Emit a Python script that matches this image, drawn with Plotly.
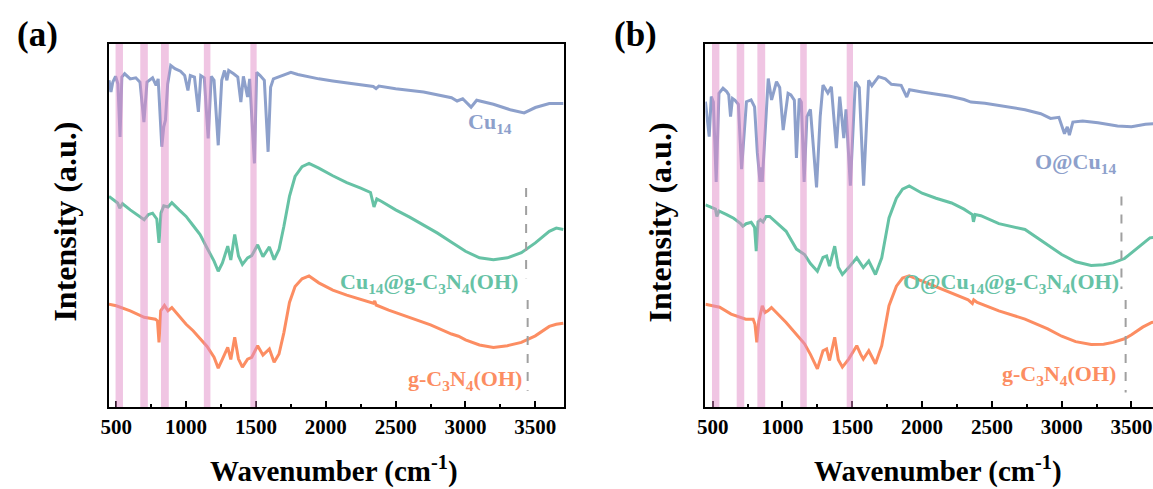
import plotly.graph_objects as go

# ---------------- data (wavenumber in cm^-1, intensity in arbitrary units) ----------------
# Panel (a)
a_cu14_x = [448, 462, 475, 495, 512, 527, 540, 560, 600, 640, 670, 698, 720, 760, 785, 800, 826, 840, 852, 868,
            890, 920, 960, 990, 1013, 1030, 1060, 1088, 1105, 1130, 1158, 1180, 1200, 1230, 1255, 1275, 1292, 1305,
            1340, 1370, 1392, 1410, 1440, 1455, 1489, 1505, 1530, 1560, 1587, 1605, 1625, 1660, 1700, 1750, 1800,
            1880, 1950, 2050, 2200, 2340, 2360, 2380, 2500, 2700, 2900, 2940, 2980, 3040, 3080, 3200, 3320, 3420,
            3500, 3600, 3700]
a_cu14_y = [90.0, 86.8, 89.5, 91.1, 89.0, 74.4, 90.9, 91.8, 90.4, 90.7, 89.5, 78.5, 89.5, 90.7, 88.6, 90.4, 71.7,
            77.2, 79.0, 89.0, 94.1, 93.2, 92.5, 91.3, 87.2, 91.3, 90.9, 81.3, 91.3, 90.7, 74.0, 91.1, 90.0, 72.1,
            90.0, 92.7, 90.0, 92.7, 91.8, 90.9, 84.0, 91.1, 85.4, 90.4, 67.1, 92.2, 91.3, 90.0, 70.3, 88.1, 90.4,
            90.9, 91.3, 92.2, 91.6, 90.9, 90.4, 89.8, 89.0, 88.3, 87.7, 88.4, 87.7, 86.8, 85.2, 84.3, 84.9, 82.6,
            84.5, 83.4, 81.9, 81.0, 82.5, 83.6, 83.6]

a_hyb_x = [448, 480, 510, 525, 545, 600, 650, 700, 730, 760, 790, 806, 820, 840, 870, 898, 950, 1000, 1050, 1100,
           1150, 1200, 1230, 1260, 1298, 1320, 1348, 1375, 1403, 1440, 1470, 1512, 1550, 1596, 1630, 1665, 1700,
           1740, 1780, 1830, 1880, 1950, 2050, 2150, 2250, 2320, 2345, 2365, 2400, 2500, 2600, 2700, 2800, 2900,
           3000, 3100, 3200, 3300, 3400, 3500, 3600, 3650, 3700]
a_hyb_y = [58.0, 57.1, 56.2, 54.8, 56.0, 54.3, 53.0, 51.6, 53.0, 53.4, 51.8, 45.2, 53.4, 55.4, 55.1, 56.3, 54.3,
           52.5, 50.0, 47.5, 43.8, 40.2, 37.4, 39.7, 44.3, 40.5, 47.5, 41.6, 39.3, 41.1, 41.7, 44.7, 41.4, 44.1,
           40.6, 43.4, 49.8, 58.0, 63.5, 66.2, 67.1, 65.8, 63.7, 61.8, 60.3, 59.1, 55.1, 57.3, 56.6, 54.3, 52.3,
           50.1, 47.9, 45.4, 42.9, 41.1, 40.6, 41.1, 42.5, 45.2, 48.4, 49.3, 48.9]

a_cn_x = [448, 500, 600, 700, 780, 795, 806, 818, 845, 870, 898, 950, 1000, 1050, 1100, 1150, 1200, 1230, 1260,
          1298, 1320, 1348, 1375, 1403, 1440, 1470, 1512, 1550, 1596, 1630, 1665, 1700, 1740, 1780, 1830, 1880,
          1950, 2050, 2150, 2250, 2340, 2350, 2360, 2450, 2600, 2750, 2900, 2950, 3000, 3100, 3200, 3300, 3400,
          3500, 3600, 3650, 3700]
a_cn_y = [28.3, 27.9, 26.5, 24.7, 24.2, 23.7, 17.8, 26.5, 28.0, 26.5, 27.4, 25.1, 22.8, 21.0, 18.7, 16.7, 13.7,
          10.7, 13.2, 16.4, 13.1, 19.2, 13.2, 11.0, 13.2, 13.7, 16.9, 14.3, 16.0, 12.3, 14.6, 20.5, 28.8, 33.2,
          35.3, 36.1, 34.2, 32.2, 30.8, 29.7, 28.6, 29.2, 28.1, 26.7, 24.7, 22.6, 20.1, 19.5, 18.5, 17.1, 16.4,
          16.9, 17.8, 19.6, 22.2, 22.8, 23.1]

# Panel (b)
b_ocu_x = [448, 475, 490, 505, 525, 545, 574, 600, 615, 628, 642, 660, 684, 707, 742, 775, 800, 820, 839, 847,
           855, 873, 898, 922, 957, 980, 1005, 1040, 1060, 1085, 1100, 1120, 1135, 1155, 1175, 1200, 1215, 1244,
           1270, 1290, 1325, 1350, 1386, 1410, 1439, 1455, 1486, 1522, 1550, 1581, 1617, 1640, 1688, 1737, 1780,
           1850, 1890, 1910, 2000, 2100, 2200, 2300, 2350, 2450, 2600, 2737, 2850, 2920, 2980, 3020, 3040, 3055,
           3080, 3150, 3260, 3400, 3500, 3600, 3700]
b_ocu_y = [84.1, 74.5, 85.5, 84.0, 62.0, 86.4, 87.8, 86.9, 86.0, 80.0, 85.0, 84.5, 83.4, 65.5, 84.1, 84.6, 82.7,
           70.0, 62.0, 66.0, 62.0, 75.3, 90.5, 84.6, 89.6, 88.0, 76.3, 86.4, 86.0, 84.5, 68.6, 85.0, 84.0, 62.0,
           80.0, 82.0, 74.0, 60.5, 80.0, 88.7, 86.5, 88.2, 71.3, 85.5, 74.1, 82.0, 61.0, 89.6, 88.0, 61.0, 90.0,
           88.5, 91.0, 90.4, 88.9, 88.6, 85.4, 87.4, 86.8, 86.3, 85.6, 84.7, 84.0, 83.7, 82.8, 81.9, 80.8, 79.5,
           79.8, 75.3, 77.2, 74.9, 78.5, 78.8, 78.3, 77.4, 77.2, 77.9, 78.1]

b_hyb_x = [448, 490, 520, 530, 545, 600, 650, 700, 716, 740, 776, 800, 812, 825, 842, 860, 882, 908, 950, 1026,
           1100, 1158, 1200, 1250, 1290, 1316, 1337, 1374, 1400, 1429, 1474, 1532, 1560, 1579, 1618, 1666, 1711,
           1763, 1816, 1860, 1908, 2000, 2100, 2211, 2300, 2360, 2368, 2380, 2421, 2550, 2737, 2850, 3000, 3100,
           3211, 3300, 3368, 3450, 3500, 3580, 3632, 3710]
b_hyb_y = [55.7, 55.0, 54.5, 52.5, 54.0, 53.0, 52.0, 50.5, 49.8, 50.5, 50.9, 49.5, 42.9, 51.0, 51.6, 51.0, 52.5,
           52.5, 51.0, 48.4, 43.5, 42.0, 39.5, 37.4, 41.2, 41.6, 38.8, 44.3, 38.5, 36.5, 38.4, 41.1, 39.5, 38.4,
           40.2, 36.5, 41.1, 52.1, 57.5, 60.0, 60.9, 58.9, 57.5, 56.2, 54.5, 53.0, 51.0, 53.0, 52.7, 50.5, 48.9,
           46.0, 42.0, 40.0, 39.0, 39.2, 39.7, 40.9, 42.5, 45.0, 46.6, 47.0]

b_cn_x = [448, 550, 632, 700, 737, 790, 803, 816, 830, 855, 875, 895, 921, 1026, 1100, 1158, 1200, 1250, 1290,
          1316, 1337, 1374, 1400, 1429, 1474, 1532, 1560, 1579, 1618, 1666, 1711, 1763, 1816, 1860, 1908, 2000,
          2100, 2211, 2330, 2360, 2370, 2395, 2550, 2737, 2900, 3000, 3100, 3211, 3300, 3368, 3450, 3500, 3580,
          3645, 3710]
b_cn_y = [28.3, 27.5, 25.6, 24.7, 24.2, 24.2, 22.8, 17.8, 23.5, 27.9, 26.0, 26.5, 27.4, 23.3, 20.0, 17.4, 14.5,
          10.5, 15.5, 16.0, 12.8, 19.2, 13.0, 11.0, 13.2, 16.9, 14.5, 13.2, 15.5, 11.9, 16.9, 27.9, 33.3, 35.5,
          36.1, 34.7, 33.0, 31.5, 29.5, 28.5, 29.5, 28.8, 26.5, 24.2, 21.5, 19.5, 18.0, 17.2, 17.3, 17.8, 18.8,
          19.9, 22.0, 23.3, 23.7]

# highlighted band limits (cm^-1)
band_lo = [495, 672, 820, 1127, 1460]
band_hi = [548, 726, 876, 1174, 1505]

# tick labels
tick_vals = [500, 1000, 1500, 2000, 2500, 3000, 3500]
tick_text = ["500", "1000", "1500", "2000", "2500", "3000", "3500"]

names_a = ["Cu<sub>14</sub>", "Cu<sub>14</sub>@g-C<sub>3</sub>N<sub>4</sub>(OH)", "g-C<sub>3</sub>N<sub>4</sub>(OH)"]
names_b = ["O@Cu<sub>14</sub>", "O@Cu<sub>14</sub>@g-C<sub>3</sub>N<sub>4</sub>(OH)", "g-C<sub>3</sub>N<sub>4</sub>(OH)"]

# ---------------- styles ----------------
BLUE = "#8da0cb"
GREEN = "#66c2a5"
ORANGE = "#fc8d62"
FONT = "Liberation Serif"
W, H = 1153, 489

fig = go.Figure()
series_a = [(a_cu14_x, a_cu14_y, BLUE), (a_hyb_x, a_hyb_y, GREEN), (a_cn_x, a_cn_y, ORANGE)]
series_b = [(b_ocu_x, b_ocu_y, BLUE), (b_hyb_x, b_hyb_y, GREEN), (b_cn_x, b_cn_y, ORANGE)]
for xs, ys, c in series_a:
    fig.add_trace(go.Scatter(x=xs, y=ys, mode="lines", line=dict(color=c, width=3),
                             xaxis="x", yaxis="y", showlegend=False, hoverinfo="skip"))
for xs, ys, c in series_b:
    fig.add_trace(go.Scatter(x=xs, y=ys, mode="lines", line=dict(color=c, width=3),
                             xaxis="x2", yaxis="y2", showlegend=False, hoverinfo="skip"))

shapes = []
for xr, yr in (("x", "y"), ("x2", "y2")):
    for lo, hi in zip(band_lo, band_hi):
        shapes.append(dict(type="rect", xref=xr, yref=yr + " domain", x0=lo, x1=hi, y0=0, y1=1,
                           fillcolor="rgba(226,140,200,0.5)", line=dict(width=0), layer="above"))

dash = dict(color="#a0a0a0", width=2, dash="dash")
shapes += [
    dict(type="line", xref="x", yref="y", x0=3434, x1=3434, y0=60.3, y1=35.5, line=dash),
    dict(type="line", xref="x", yref="y", x0=3445, x1=3445, y0=29.5, y1=4.5, line=dash),
    dict(type="line", xref="x2", yref="y2", x0=3428, x1=3428, y0=58.0, y1=32.5, line=dash),
    dict(type="line", xref="x2", yref="y2", x0=3458, x1=3458, y0=29.5, y1=4.0, line=dash),
]

lab_font = lambda c: dict(family=FONT, size=22, color=c, weight="bold")
ann = [
    dict(xref="x", yref="y", x=3350, y=78.2, text=names_a[0], xanchor="right", yanchor="middle",
         showarrow=False, font=lab_font(BLUE)),
    dict(xref="x", yref="y", x=3390, y=34.2, text=names_a[1], xanchor="right", yanchor="middle",
         showarrow=False, font=lab_font(GREEN)),
    dict(xref="x", yref="y", x=3422, y=7.4, text=names_a[2], xanchor="right", yanchor="middle",
         showarrow=False, font=lab_font(ORANGE)),
    dict(xref="x2", yref="y2", x=3400, y=67.2, text=names_b[0], xanchor="right", yanchor="middle",
         showarrow=False, font=lab_font(BLUE)),
    dict(xref="x2", yref="y2", x=3425, y=34.2, text=names_b[1], xanchor="right", yanchor="middle",
         showarrow=False, font=lab_font(GREEN)),
    dict(xref="x2", yref="y2", x=3405, y=8.8, text=names_b[2], xanchor="right", yanchor="middle",
         showarrow=False, font=lab_font(ORANGE)),
]

def px(xp, yp, text, size, angle=0):
    return dict(xref="paper", yref="paper", x=xp / W, y=1 - yp / H, text=text, showarrow=False,
                xanchor="center", yanchor="middle", textangle=angle,
                font=dict(family=FONT, size=size, color="black", weight="bold"))

ann += [
    px(30, 34, "(a)", 35),
    px(632, 34, "(b)", 35),
    px(328, 469, "Wavenumber (cm<sup>-1</sup>)", 29),
    px(936, 469, "Wavenumber (cm<sup>-1</sup>)", 29),
    px(57, 222, "Intensity (a.u.)", 32, -90),
    px(657, 222, "Intensity (a.u.)", 32, -90),
]

ydom = [(H - 407) / H, (H - 44) / H]

def xax(domain, rng, anchor):
    return dict(domain=domain, range=rng, anchor=anchor, showline=True, linecolor="black", linewidth=2,
                mirror=True, ticks="inside", ticklen=6, tickwidth=2, tickcolor="black",
                tickvals=tick_vals, ticktext=tick_text, showgrid=False, zeroline=False,
                tickfont=dict(family=FONT, size=21, color="black", weight="bold"),
                minor=dict(ticks="inside", ticklen=3, tickwidth=1.5, tickcolor="black", dtick=250,
                           tick0=0, showgrid=False))

def yax(anchor, mirror):
    return dict(domain=ydom, range=[0, 100], anchor=anchor, showline=True, linecolor="black", linewidth=2,
                mirror=mirror, ticks="", showticklabels=False, showgrid=False, zeroline=False)

fig.update_layout(
    width=W, height=H, margin=dict(l=0, r=0, t=0, b=0),
    paper_bgcolor="white", plot_bgcolor="white",
    xaxis=xax([101.7 / W, 560 / W], [448, 3706], "y"),
    xaxis2=xax([702.3 / W, 1.0], [448, 3654], "y2"),
    yaxis=yax("x", True),
    yaxis2=yax("x2", False),
    shapes=shapes, annotations=ann,
)

fig.write_html("out.html")
